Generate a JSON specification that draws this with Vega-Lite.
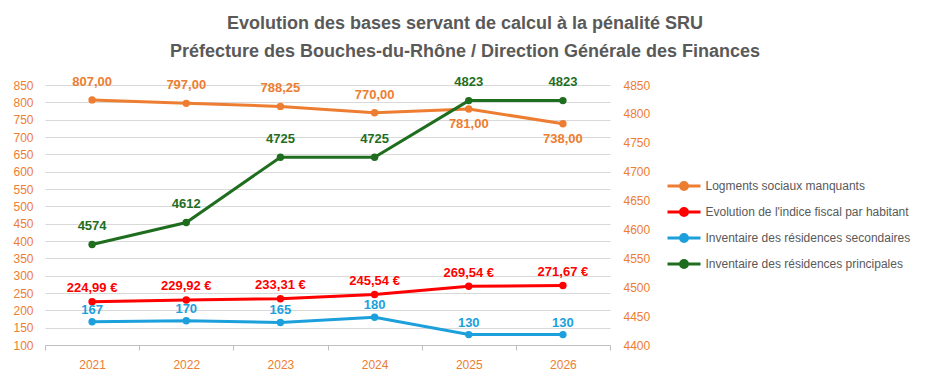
{
  "$schema": "https://vega.github.io/schema/vega-lite/v6.json",
  "width": 565,
  "height": 260,
  "autosize": {"type": "none"},
  "padding": {"left": 45, "top": 85, "right": 320, "bottom": 37},
  "background": "white",
  "title": {
    "text": ["Evolution des bases servant de calcul à la pénalité SRU", "Préfecture des Bouches-du-Rhône / Direction Générale des Finances"],
    "anchor": "middle",
    "frame": "group",
    "dx": 137.5,
    "offset": 15,
    "fontSize": 18,
    "lineHeight": 28,
    "font": "Liberation Sans",
    "fontWeight": "bold",
    "color": "#595959"
  },
  "config": {
    "view": {"stroke": null},
    "text": {"font": "Liberation Sans", "fontWeight": "bold", "fontSize": 13, "baseline": "middle"}
  },
  "data": {
    "values": [
      {"year": "2021", "series": "Logments sociaux manquants", "value": 807, "label": "807,00"},
      {"year": "2022", "series": "Logments sociaux manquants", "value": 797, "label": "797,00"},
      {"year": "2023", "series": "Logments sociaux manquants", "value": 788.25, "label": "788,25"},
      {"year": "2024", "series": "Logments sociaux manquants", "value": 770, "label": "770,00"},
      {"year": "2025", "series": "Logments sociaux manquants", "value": 781, "label": "781,00"},
      {"year": "2026", "series": "Logments sociaux manquants", "value": 738, "label": "738,00"},
      {"year": "2021", "series": "Evolution de l'indice fiscal par habitant", "value": 224.99, "label": "224,99 €"},
      {"year": "2022", "series": "Evolution de l'indice fiscal par habitant", "value": 229.92, "label": "229,92 €"},
      {"year": "2023", "series": "Evolution de l'indice fiscal par habitant", "value": 233.31, "label": "233,31 €"},
      {"year": "2024", "series": "Evolution de l'indice fiscal par habitant", "value": 245.54, "label": "245,54 €"},
      {"year": "2025", "series": "Evolution de l'indice fiscal par habitant", "value": 269.54, "label": "269,54 €"},
      {"year": "2026", "series": "Evolution de l'indice fiscal par habitant", "value": 271.67, "label": "271,67 €"},
      {"year": "2021", "series": "Inventaire des résidences secondaires", "value": 167, "label": "167"},
      {"year": "2022", "series": "Inventaire des résidences secondaires", "value": 170, "label": "170"},
      {"year": "2023", "series": "Inventaire des résidences secondaires", "value": 165, "label": "165"},
      {"year": "2024", "series": "Inventaire des résidences secondaires", "value": 180, "label": "180"},
      {"year": "2025", "series": "Inventaire des résidences secondaires", "value": 130, "label": "130"},
      {"year": "2026", "series": "Inventaire des résidences secondaires", "value": 130, "label": "130"},
      {"year": "2021", "series": "Inventaire des résidences principales", "value": 4574, "label": "4574"},
      {"year": "2022", "series": "Inventaire des résidences principales", "value": 4612, "label": "4612"},
      {"year": "2023", "series": "Inventaire des résidences principales", "value": 4725, "label": "4725"},
      {"year": "2024", "series": "Inventaire des résidences principales", "value": 4725, "label": "4725"},
      {"year": "2025", "series": "Inventaire des résidences principales", "value": 4823, "label": "4823"},
      {"year": "2026", "series": "Inventaire des résidences principales", "value": 4823, "label": "4823"}
    ]
  },
  "encoding": {
    "x": {
      "field": "year",
      "type": "ordinal",
      "scale": {"type": "band", "paddingInner": 0, "paddingOuter": 0},
      "axis": {
        "title": null,
        "labelAngle": 0,
        "labelColor": "#ED7D31",
        "labelFont": "Liberation Sans",
        "labelFontSize": 12,
        "domainColor": "#BFBFBF",
        "tickColor": "#BFBFBF",
        "tickSize": 5,
        "tickBand": "extent",
        "labelPadding": 9,
        "grid": false
      }
    },
    "color": {
      "field": "series",
      "type": "nominal",
      "scale": {
        "domain": ["Logments sociaux manquants", "Evolution de l'indice fiscal par habitant", "Inventaire des résidences secondaires", "Inventaire des résidences principales"],
        "range": ["#ED7D31", "#FF0000", "#1CA0DC", "#1F6E1F"]
      },
      "legend": {
        "title": null,
        "orient": "none",
        "legendX": 627.5,
        "legendY": 89.5,
        "padding": 0,
        "symbolType": "M-1.65,0L1.65,0M-0.35,0A0.35,0.35,0,1,1,0.35,0A0.35,0.35,0,1,1,-0.35,0Z",
        "symbolSize": 400,
        "symbolStrokeWidth": 3,
        "rowPadding": 5,
        "labelOffset": 10,
        "labelFont": "Liberation Sans",
        "labelFontSize": 12,
        "labelColor": "#595959",
        "labelLimit": 300,
        "encode": {
          "symbols": {
            "update": {
              "fill": {"scale": "color", "field": "value"},
              "stroke": {"scale": "color", "field": "value"},
              "opacity": {"value": 1}
            }
          }
        }
      }
    }
  },
  "layer": [
    {
      "transform": [{"filter": "datum.series !== 'Inventaire des résidences principales'"}],
      "encoding": {
        "y": {
          "field": "value",
          "type": "quantitative",
          "scale": {"domain": [100, 850], "nice": false, "zero": false},
          "axis": {
            "title": null,
            "values": [100, 150, 200, 250, 300, 350, 400, 450, 500, 550, 600, 650, 700, 750, 800, 850],
            "format": "d",
            "grid": true,
            "gridColor": "#D9D9D9",
            "domain": false,
            "ticks": false,
            "labelPadding": 12,
            "labelColor": "#ED7D31",
            "labelFont": "Liberation Sans",
            "labelFontSize": 12
          }
        }
      },
      "layer": [
        {"mark": {"type": "line", "strokeWidth": 3}},
        {"mark": {"type": "point", "filled": true, "size": 55, "opacity": 1}},
        {
          "transform": [{"filter": "datum.series === 'Logments sociaux manquants' && toNumber(datum.year) <= 2024"}],
          "mark": {"type": "text", "dy": -18},
          "encoding": {"text": {"field": "label"}}
        },
        {
          "transform": [{"filter": "datum.series === 'Logments sociaux manquants' && toNumber(datum.year) >= 2025"}],
          "mark": {"type": "text", "dy": 15},
          "encoding": {"text": {"field": "label"}}
        },
        {
          "transform": [{"filter": "datum.series !== 'Logments sociaux manquants' && datum.series !== 'Inventaire des résidences secondaires'"}],
          "mark": {"type": "text", "dy": -13.5},
          "encoding": {"text": {"field": "label"}}
        },
        {
          "transform": [{"filter": "datum.series === 'Inventaire des résidences secondaires'"}],
          "mark": {"type": "text", "dy": -12},
          "encoding": {"text": {"field": "label"}}
        }
      ]
    },
    {
      "transform": [{"filter": "datum.series === 'Inventaire des résidences principales'"}],
      "encoding": {
        "y": {
          "field": "value",
          "type": "quantitative",
          "scale": {"domain": [4400, 4850], "nice": false, "zero": false},
          "axis": {
            "title": null,
            "orient": "right",
            "values": [4400, 4450, 4500, 4550, 4600, 4650, 4700, 4750, 4800, 4850],
            "format": "d",
            "grid": false,
            "domain": false,
            "ticks": false,
            "labelPadding": 13,
            "labelColor": "#ED7D31",
            "labelFont": "Liberation Sans",
            "labelFontSize": 12
          }
        }
      },
      "layer": [
        {"mark": {"type": "line", "strokeWidth": 3}},
        {"mark": {"type": "point", "filled": true, "size": 55, "opacity": 1}},
        {
          "mark": {"type": "text", "dy": -18.5},
          "encoding": {"text": {"field": "label"}}
        }
      ]
    }
  ],
  "resolve": {"scale": {"y": "independent"}}
}
